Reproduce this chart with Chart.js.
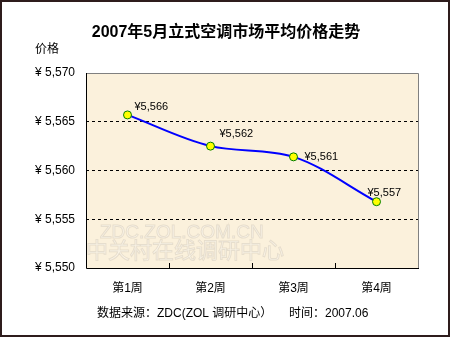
<!DOCTYPE html>
<html>
<head>
<meta charset="utf-8">
<script src="https://cdn.jsdelivr.net/npm/chart.js@4/dist/chart.umd.min.js"></script>
<style>
  html, body { margin: 0; padding: 0; background: #fff; }
  #wrap { width: 450px; height: 337px; position: relative; }
</style>
</head>
<body>
<div id="wrap"><canvas id="c" width="450" height="337"></canvas></div>
<script>
const weeks = ["第1周", "第2周", "第3周", "第4周"];
const prices = [5565.7, 5562.5, 5561.4, 5556.8];
const priceLabels = ["¥5,566", "¥5,562", "¥5,561", "¥5,557"];
const yMin = 5550, yMax = 5570, yStep = 5;

const FONT = "'Liberation Sans', Arial, 'Noto Sans CJK SC', sans-serif";
// label offsets from each point (dx, dy)
const labelOffsets = [[7, -8], [9, -12], [11, 0], [-9, -9]];

const decor = {
  id: "decor",
  beforeDraw(chart) {
    const { ctx, chartArea: a } = chart;
    ctx.save();
    ctx.fillStyle = "#fff";
    ctx.fillRect(0, 0, chart.width, chart.height);
    ctx.fillStyle = "#fbf1dc";
    ctx.fillRect(a.left, a.top, a.right - a.left, a.bottom - a.top);
    // faint watermark
    ctx.font = "19px " + FONT;
    ctx.textBaseline = "alphabetic";
    ctx.strokeStyle = "rgba(200,190,175,0.4)";
    ctx.lineWidth = 1;
    ctx.fillStyle = "rgba(255,255,255,0.35)";
    ctx.fillText("ZDC.ZOL.COM.CN", 100, 238);
    ctx.strokeText("ZDC.ZOL.COM.CN", 100, 238);
    ctx.font = "22px 'Noto Sans CJK SC', sans-serif";
    ctx.fillText("中关村在线调研中心", 86, 258);
    ctx.strokeText("中关村在线调研中心", 86, 258);
    ctx.restore();
  },
  afterDraw(chart) {
    const { ctx, chartArea: a } = chart;
    const x = chart.scales.x;
    ctx.save();
    // plot border
    ctx.lineWidth = 1;
    ctx.strokeStyle = "#808080";
    ctx.beginPath();
    ctx.moveTo(a.left, a.top + 0.5);
    ctx.lineTo(a.right + 0.5, a.top + 0.5);
    ctx.lineTo(a.right + 0.5, a.bottom);
    ctx.stroke();
    ctx.strokeStyle = "#000";
    ctx.beginPath();
    ctx.moveTo(a.left + 0.5, a.top);
    ctx.lineTo(a.left + 0.5, a.bottom + 0.5);
    ctx.lineTo(a.right + 1, a.bottom + 0.5);
    ctx.stroke();
    // inward category ticks
    ctx.beginPath();
    for (let i = 0; i < weeks.length - 1; i++) {
      const bx = Math.round((x.getPixelForValue(i) + x.getPixelForValue(i + 1)) / 2) + 0.5;
      ctx.moveTo(bx, a.bottom);
      ctx.lineTo(bx, a.bottom - 5);
    }
    ctx.stroke();
    // value labels
    const meta = chart.getDatasetMeta(0);
    ctx.font = "11px " + FONT;
    ctx.fillStyle = "#000";
    ctx.textBaseline = "middle";
    ctx.textAlign = "left";
    meta.data.forEach((p, i) => {
      const o = labelOffsets[i];
      ctx.fillText(priceLabels[i], p.x + o[0], p.y + o[1]);
    });
    // titles and footer
    ctx.font = "bold 16px " + FONT;
    ctx.textAlign = "center";
    ctx.fillText("2007年5月立式空调市场平均价格走势", 226, 33);
    ctx.font = "12px " + FONT;
    ctx.textAlign = "left";
    ctx.fillText("价格", 35, 50);
    ctx.fillText("数据来源：ZDC(ZOL 调研中心）", 97, 314);
    ctx.fillText("时间：2007.06", 289, 314);
    // outer frame
    ctx.strokeStyle = "#2e1c1c";
    ctx.lineWidth = 2;
    ctx.strokeRect(1, 1, chart.width - 2, chart.height - 2);
    ctx.restore();
  }
};

new Chart(document.getElementById("c"), {
  type: "line",
  data: {
    labels: weeks,
    datasets: [{
      data: prices,
      borderColor: "#0000ff",
      borderWidth: 2,
      tension: 0.4,
      cubicInterpolationMode: "monotone",
      pointRadius: 4,
      pointBackgroundColor: "#ffff00",
      pointBorderColor: "#008000",
      pointBorderWidth: 1
    }]
  },
  options: {
    responsive: false,
    animation: false,
    events: [],
    layout: { padding: { left: 0, right: 32, top: 73, bottom: 0 } },
    plugins: { legend: { display: false }, tooltip: { enabled: false }, title: { display: false } },
    scales: {
      x: {
        offset: true,
        border: { display: false },
        grid: { display: false },
        ticks: { color: "#000", font: { size: 12, family: FONT }, padding: 5 },
        afterFit(s) { s.height = 69; }
      },
      y: {
        min: yMin,
        max: yMax,
        border: { display: false, dash: [3, 3] },
        grid: {
          color: (c) => (c.tick && c.tick.value > yMin && c.tick.value < yMax) ? "#000" : "rgba(0,0,0,0)",
          drawTicks: false,
          lineWidth: 1
        },
        ticks: {
          stepSize: yStep,
          color: "#000",
          padding: 11,
          font: { size: 12, family: FONT },
          callback: (v) => "¥ " + v.toLocaleString("en-US")
        },
        afterFit(s) { s.width = 86; }
      }
    }
  },
  plugins: [decor]
});
</script>
</body>
</html>
